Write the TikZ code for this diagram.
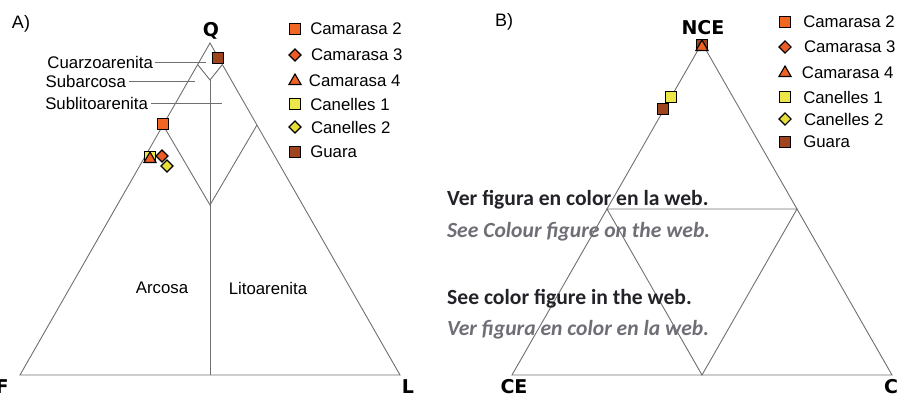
\documentclass[tikz,border=0pt]{standalone}
\usepackage{fontspec}
\setmainfont{Liberation Sans}
\newfontfamily\webfont{Carlito}
\newfontfamily\vtxfont{DejaVu Sans}
\usetikzlibrary{positioning,shapes.geometric}

\definecolor{camdos}{RGB}{242,102,36}
\definecolor{camtres}{RGB}{236,92,38}
\definecolor{camcuatro}{RGB}{240,98,34}
\definecolor{canuno}{RGB}{236,230,72}
\definecolor{candos}{RGB}{232,222,58}
\definecolor{guara}{RGB}{158,68,30}
\definecolor{edgegray}{RGB}{112,112,112}
\definecolor{webgray}{RGB}{110,110,118}
\definecolor{webblack}{RGB}{34,34,40}

\tikzset{
	mkr/.style={draw=black, line width=1.1pt, inner sep=0pt},
	sq/.style={mkr, rectangle, minimum size=11pt},
	dm/.style={mkr, diamond, minimum size=12.5pt},
	tri/.style={mkr, regular polygon, regular polygon sides=3, minimum size=14pt},
	lbl/.style={inner sep=0pt, font=\fontsize{16.8}{18}\selectfont},
	vtx/.style={inner sep=0pt, font=\vtxfont\bfseries\fontsize{19}{21}\selectfont},
	side/.style={draw=edgegray, line width=0.9pt},
	web/.style={inner sep=0pt, anchor=base west, text=webblack,
		font=\webfont\bfseries\fontsize{21.6}{24}\selectfont},
	webit/.style={web, text=webgray,
		font=\webfont\bfseries\itshape\fontsize{21.6}{24}\selectfont},
}

\begin{document}
\begin{tikzpicture}[x=1pt, y=-1pt]
				\useasboundingbox (0,0) rectangle (897,396);
				
				% A) Q-F-L
				\coordinate                               (Q) at (210,43);
				\coordinate                               (F) at (20,375);
				\coordinate                               (L) at (400,375);
				\coordinate                               (q95l) at (198,65);
				\coordinate                               (q95r) at (222,65);
				\coordinate                               (qv) at (210,80);
				\coordinate                               (q75l) at (163,125);
				\coordinate                               (q75r) at (257,125);
				\coordinate                               (qw) at (210,205);
				\coordinate                               (fl) at (210,375);
				
				\draw[side] (F) -- (Q) -- (L) -- cycle;
				\draw[side] (q95l) -- (qv) -- (q95r);
				\draw[side] (q75l) -- (qw) -- (q75r);
				\draw[side] (qv) -- (fl);
				
				\node                                     (panA) at (21,24) {\fontsize{18}{20}\selectfont A)};
				\node[vtx]                                (lQ) at (211,31) {Q};
				\node[vtx]                                (lF) at (2,387) {F};
				\node[vtx]                                (lL) at (408,387) {L};
				
				\node[lbl]                                (arcosa) at (162,288) {Arcosa};
				\node[lbl]                                (lito) at (268,288) {Litoarenita};
				
				\node[lbl, anchor=east, outer sep=2pt]    (cuarzo) at (155,62) {Cuarzoarenita};
				\node[lbl, anchor=east, outer sep=3pt]    (subarc) at (129,81) {Subarcosa};
				\node[lbl, anchor=east, outer sep=3pt]    (sublit) at (151,103) {Sublitoarenita};
				\coordinate                               (cuarzoend) at (206,62);
				\coordinate                               (subarcend) at (195,81);
				\coordinate                               (sublitend) at (222,103);
				\draw[edgegray, line width=0.8pt] (cuarzo) -- (cuarzoend);
				\draw[edgegray, line width=0.8pt] (subarc) -- (subarcend);
				\draw[edgegray, line width=0.8pt] (sublit) -- (sublitend);
				
				\node[sq, fill=guara]                     (guaA) at (218,58) {};
				\node[sq, fill=camdos]                    (cam2A) at (163,124) {};
				\node[sq, fill=canuno]                    (can1A) at (150,157) {};
				\node[tri, fill=camcuatro]                (cam4A) at (150,159) {};
				\node[dm, fill=camtres]                   (cam3A) at (162,156) {};
				\node[dm, fill=candos]                    (can2A) at (167,166) {};
				
				\node[sq, fill=camdos]                    (la1) at (295,29) {};
				\node[dm, fill=camtres]                   (la2) at (295,55) {};
				\node[tri, fill=camcuatro]                (la3) at (295,81) {};
				\node[sq, fill=canuno]                    (la4) at (295,104) {};
				\node[dm, fill=candos]                    (la5) at (295,127) {};
				\node[sq, fill=guara]                     (la6) at (295,152) {};
				\node[lbl, right=9pt of la1]              (ta1) {Camarasa 2};
				\node[lbl, right=9pt of la2]              (ta2) {Camarasa 3};
				\node[lbl, right=9pt of la3]              (ta3) {Camarasa 4};
				\node[lbl, right=9pt of la4]              (ta4) {Canelles 1};
				\node[lbl, right=9pt of la5]              (ta5) {Canelles 2};
				\node[lbl, right=9pt of la6]              (ta6) {Guara};
				
				% B) NCE-CE-C
				\coordinate                               (NCE) at (702,43);
				\coordinate                               (CE) at (512,375);
				\coordinate                               (C) at (892,375);
				\coordinate                               (m1) at (607,209);
				\coordinate                               (m2) at (797,209);
				\coordinate                               (m3) at (702,375);
				
				\draw[side] (CE) -- (NCE) -- (C) -- cycle;
				\draw[side] (m1) -- (m2) -- (m3) -- cycle;
				
				\node                                     (panB) at (504,22) {\fontsize{18}{20}\selectfont B)};
				\node[vtx]                                (lNCE) at (703,28) {NCE};
				\node[vtx]                                (lCE) at (514,387) {CE};
				\node[vtx]                                (lC) at (891,387) {C};
				
				\node[sq, fill=guara]                     (guaB1) at (702,45) {};
				\node[tri, fill=camcuatro]                (cam4B) at (702,47) {};
				\node[sq, fill=canuno]                    (can1B) at (671,97) {};
				\node[sq, fill=guara]                     (guaB2) at (663,109) {};
				
				\node[sq, fill=camdos]                    (lb1) at (785,22) {};
				\node[dm, fill=camtres]                   (lb2) at (785,47) {};
				\node[tri, fill=camcuatro]                (lb3) at (785,73) {};
				\node[sq, fill=canuno]                    (lb4) at (785,97) {};
				\node[dm, fill=candos]                    (lb5) at (785,119) {};
				\node[sq, fill=guara]                     (lb6) at (785,142) {};
				\node[lbl, right=12pt of lb1]             (tb1) {Camarasa 2};
				\node[lbl, right=12pt of lb2]             (tb2) {Camarasa 3};
				\node[lbl, right=12pt of lb3]             (tb3) {Camarasa 4};
				\node[lbl, right=12pt of lb4]             (tb4) {Canelles 1};
				\node[lbl, right=12pt of lb5]             (tb5) {Canelles 2};
				\node[lbl, right=12pt of lb6]             (tb6) {Guara};
				
				\node[web]                                (web1) at (447,205) {Ver figura en color en la web.};
				\node[webit]                              (web2) at (447,237) {See Colour figure on the web.};
				\node[web]                                (web3) at (447,304) {See color figure in the web.};
				\node[webit]                              (web4) at (447,335) {Ver figura en color en la web.};
				
			\end{tikzpicture}
\end{document}
